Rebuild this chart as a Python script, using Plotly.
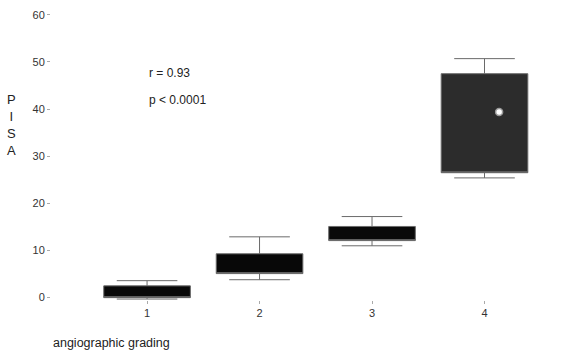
import plotly.graph_objects as go

grades = [1, 2, 3, 4]
lower_whisker = [-0.3, 3.8, 11.0, 25.4]
q1_vals = [0.0, 5.1, 12.1, 26.5]
median_vals = [0.0, 5.1, 12.1, 26.5]
q3_vals = [2.5, 9.3, 15.1, 47.5]
upper_whisker = [3.6, 12.9, 17.2, 50.7]
fill_colors = ["#080808", "#080808", "#0a0a0a", "#2c2c2c"]

mean4_x = [4.13]
mean4_y = [39.4]

tick_vals_y = [0, 10, 20, 30, 40, 50, 60]
stats_text = ["r = 0.93", "p < 0.0001"]
stats_y = [47.7, 42.0]

fig = go.Figure()
for i, g in enumerate(grades):
    fig.add_trace(go.Box(
        x=[g], q1=[q1_vals[i]], median=[median_vals[i]], q3=[q3_vals[i]],
        lowerfence=[lower_whisker[i]], upperfence=[upper_whisker[i]],
        fillcolor=fill_colors[i], line=dict(color="#6a6a6a", width=1),
        width=0.77, whiskerwidth=0.7, boxpoints=False, showlegend=False,
    ))

fig.add_trace(go.Scatter(
    x=mean4_x, y=mean4_y, mode="markers", showlegend=False,
    marker=dict(color="white", size=7, line=dict(color="#999", width=1.5)),
))

for t, yv in zip(stats_text, stats_y):
    fig.add_annotation(x=1.0, y=yv, text=t, showarrow=False, xanchor="left",
                       font=dict(family="Liberation Sans, Arial", size=12, color="#222"))

fig.add_annotation(xref="paper", yref="paper", x=-0.078, y=0.59, text="P<br>I<br>S<br>A",
                   showarrow=False, xanchor="center", yanchor="middle",
                   font=dict(family="Liberation Sans, Arial", size=13, color="#222"))
fig.add_annotation(xref="paper", yref="paper", x=0.0, y=-0.145, text="angiographic grading",
                   showarrow=False, xanchor="left", yanchor="middle",
                   font=dict(family="Liberation Sans, Arial", size=12.5, color="#222"))

fig.update_layout(
    width=573, height=355,
    margin=dict(l=51, r=21, t=3, b=55),
    paper_bgcolor="white", plot_bgcolor="white",
    font=dict(family="Liberation Sans, Arial", size=11, color="#333"),
    xaxis=dict(range=[0.146, 4.6], tickvals=grades, ticktext=[str(g) for g in grades],
               showgrid=False, zeroline=False, showline=False,
               ticks="outside", ticklen=3, tickcolor="#aaa"),
    yaxis=dict(range=[-0.5, 62.5], tickvals=tick_vals_y,
               showgrid=False, zeroline=False, showline=False,
               ticks="outside", ticklen=3, tickcolor="#aaa"),
)

fig.write_html("out.html", config={"displayModeBar": False},
               post_script="document.body.style.margin='0';document.body.style.overflow='hidden';")
